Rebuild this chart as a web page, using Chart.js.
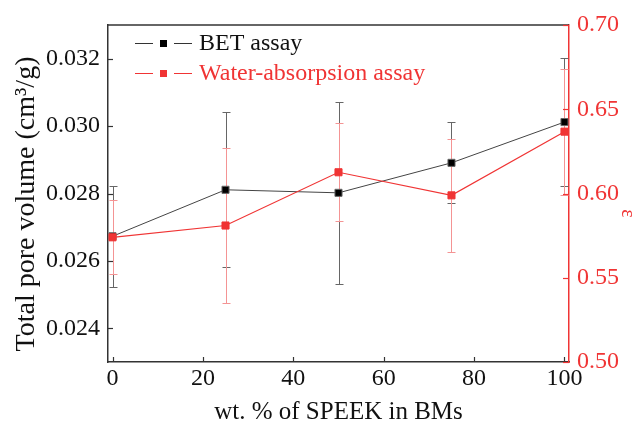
<!DOCTYPE html>
<html>
<head>
<meta charset="utf-8">
<script src="https://cdn.jsdelivr.net/npm/chart.js@4"></script>
<style>
  html, body { margin: 0; padding: 0; background: #fff; }
  #wrap { width: 636px; height: 425px; }
</style>
</head>
<body>
<div id="wrap"><canvas id="c" width="636" height="425"></canvas></div>
<script>
// data
const speek = [0, 25, 50, 75, 100];
const betVolume = [0.02673, 0.02811, 0.02802, 0.02891, 0.03012];
const betErr = [0.0015, 0.0023, 0.0027, 0.0012, 0.0019];
const waterEps = [0.574, 0.581, 0.6126, 0.5989, 0.6367];
const waterErr = [0.022, 0.046, 0.029, 0.0337, 0.0374];

const xTicks = [0, 20, 40, 60, 80, 100];
const leftTicks = [0.024, 0.026, 0.028, 0.030, 0.032];
const rightTicks = [0.50, 0.55, 0.60, 0.65, 0.70];

const RED = "#f03434";
const RED_LIGHT = "#f49494";
const DARK = "#333";
const FONT = "'Liberation Serif', 'Times New Roman', serif";

// error bars, drawn under the markers
const errorBars = {
  id: "errorBars",
  beforeDatasetsDraw(chart) {
    const ctx = chart.ctx;
    const x = chart.scales.x;
    const sets = [
      { vals: betVolume, err: betErr, axis: chart.scales.y, color: "#666" },
      { vals: waterEps, err: waterErr, axis: chart.scales.y2, color: RED_LIGHT }
    ];
    ctx.save();
    ctx.lineWidth = 1;
    sets.forEach(s => {
      ctx.strokeStyle = s.color;
      speek.forEach((v, i) => {
        const px = Math.round(x.getPixelForValue(v)) + 0.5;
        const top = Math.round(s.axis.getPixelForValue(s.vals[i] + s.err[i])) + 0.5;
        const bot = Math.round(s.axis.getPixelForValue(s.vals[i] - s.err[i])) + 0.5;
        ctx.beginPath();
        ctx.moveTo(px, top); ctx.lineTo(px, bot);
        ctx.moveTo(px - 4, top); ctx.lineTo(px + 4, top);
        ctx.moveTo(px - 4, bot); ctx.lineTo(px + 4, bot);
        ctx.stroke();
      });
    });
    ctx.restore();
  }
};

// frame top, inward ticks and the legend
const frame = {
  id: "frame",
  afterDraw(chart) {
    const ctx = chart.ctx;
    const a = chart.chartArea;
    ctx.save();
    ctx.lineWidth = 1.5;
    ctx.strokeStyle = DARK;
    ctx.beginPath();
    ctx.moveTo(a.left, a.top); ctx.lineTo(a.right, a.top);
    ctx.stroke();

    ctx.lineWidth = 1.2;
    const xs = chart.scales.x;
    xTicks.forEach(v => {
      const p = Math.round(xs.getPixelForValue(v)) + 0.5;
      ctx.beginPath(); ctx.moveTo(p, a.bottom); ctx.lineTo(p, a.bottom - 5); ctx.stroke();
    });
    const yl = chart.scales.y;
    leftTicks.forEach(v => {
      const p = Math.round(yl.getPixelForValue(v)) + 0.5;
      ctx.beginPath(); ctx.moveTo(a.left, p); ctx.lineTo(a.left + 5, p); ctx.stroke();
    });
    ctx.strokeStyle = RED;
    const yr = chart.scales.y2;
    rightTicks.forEach(v => {
      const p = Math.round(yr.getPixelForValue(v)) + 0.5;
      ctx.beginPath(); ctx.moveTo(a.right, p); ctx.lineTo(a.right - 6, p); ctx.stroke();
    });

    // legend
    const rows = [
      { text: "BET assay", line: DARK, fill: "#000", color: "#111", y: 43 },
      { text: "Water-absorpsion assay", line: RED, fill: RED, color: RED, y: 73 }
    ];
    ctx.font = "24px " + FONT;
    ctx.textBaseline = "middle";
    rows.forEach(r => {
      ctx.strokeStyle = r.line;
      ctx.lineWidth = 1;
      ctx.beginPath();
      ctx.moveTo(135, r.y + 0.5); ctx.lineTo(153, r.y + 0.5);
      ctx.moveTo(174, r.y + 0.5); ctx.lineTo(192, r.y + 0.5);
      ctx.stroke();
      ctx.fillStyle = r.fill;
      ctx.fillRect(160, r.y - 3, 7, 7);
      ctx.fillStyle = r.color;
      ctx.fillText(r.text, 199, r.y + 1);
    });
    ctx.restore();
  }
};

new Chart(document.getElementById("c"), {
  type: "line",
  data: {
    datasets: [
      {
        label: "BET assay",
        data: speek.map((v, i) => ({ x: v, y: betVolume[i] })),
        yAxisID: "y",
        borderColor: "#444",
        borderWidth: 1,
        pointStyle: "rect",
        pointRadius: 5,
        pointBackgroundColor: "#000",
        pointBorderColor: "#666",
        pointBorderWidth: 1,
        order: 2
      },
      {
        label: "Water-absorpsion assay",
        data: speek.map((v, i) => ({ x: v, y: waterEps[i] })),
        yAxisID: "y2",
        borderColor: RED,
        borderWidth: 1.2,
        pointStyle: "rect",
        pointRadius: 5,
        pointBackgroundColor: RED,
        pointBorderColor: RED,
        pointBorderWidth: 1,
        order: 1
      }
    ]
  },
  options: {
    responsive: false,
    animation: false,
    layout: { padding: { top: 25, left: 0, right: 0, bottom: 0 } },
    plugins: { legend: { display: false }, tooltip: { enabled: false } },
    scales: {
      x: {
        type: "linear",
        min: -1,
        max: 101,
        afterBuildTicks: s => { s.ticks = xTicks.map(v => ({ value: v })); },
        afterFit: s => { s.height = 63; },
        grid: { display: false, drawTicks: false, tickLength: 0 },
        border: { color: DARK, width: 1.5 },
        ticks: { color: "#111", font: { family: FONT, size: 24 }, padding: 2, maxRotation: 0 },
        title: { display: true, text: "wt. % of SPEEK in BMs", color: "#111", font: { family: FONT, size: 25, lineHeight: 1 }, padding: 0 }
      },
      y: {
        position: "left",
        min: 0.023,
        max: 0.033,
        afterBuildTicks: s => { s.ticks = leftTicks.map(v => ({ value: v })); },
        afterFit: s => { s.width = 108; },
        grid: { display: false, drawTicks: false, tickLength: 0 },
        border: { color: DARK, width: 1.5 },
        ticks: { color: "#111", font: { family: FONT, size: 24 }, padding: 8, callback: v => v.toFixed(3) },
        title: { display: true, text: "Total pore volume (cm\u00b3/g)   ", color: "#111", font: { family: FONT, size: 28, lineHeight: 1 }, padding: { top: 13, bottom: 0 } }
      },
      y2: {
        position: "right",
        min: 0.50,
        max: 0.70,
        afterBuildTicks: s => { s.ticks = rightTicks.map(v => ({ value: v })); },
        afterFit: s => { s.width = 67; },
        grid: { display: false, drawTicks: false, tickLength: 0 },
        border: { color: RED, width: 1.5 },
        ticks: { color: RED, font: { family: FONT, size: 24 }, padding: 8, callback: v => v.toFixed(2) },
        title: { display: true, text: "\u2003\u2003\u03b5", color: RED, font: { family: FONT, size: 20, lineHeight: 1 }, padding: { top: -1, bottom: 0 } }
      }
    }
  },
  plugins: [errorBars, frame]
});
</script>
</body>
</html>
